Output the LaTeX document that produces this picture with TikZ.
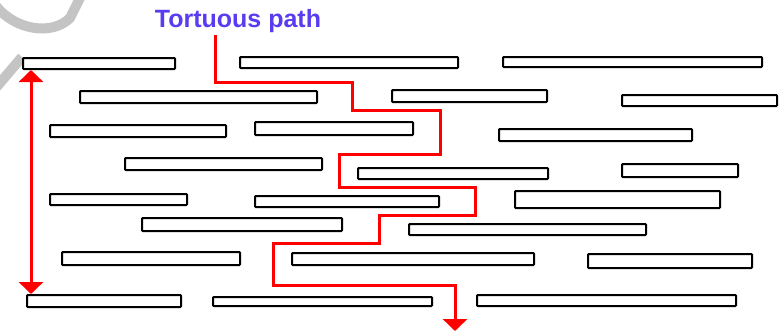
\documentclass[tikz,border=0pt]{standalone}
\usepackage{fontspec}
\setmainfont{Liberation Sans}
\usetikzlibrary{arrows.meta,fit}
\definecolor{titleblue}{RGB}{90,60,240}
\definecolor{pathred}{RGB}{255,0,0}
\definecolor{wmgray}{RGB}{196,196,196}
\tikzset{
  bar/.style={draw=black, fill=white, line width=2pt, rectangle, inner sep=0pt, outer sep=0pt, rounded corners=0.8pt},
  redpath/.style={draw=pathred, line width=3pt},
  redtip/.style={-{Triangle[width=24pt,length=12pt]}},
  title/.style={font=\fontsize{25}{28}\selectfont\bfseries, text=titleblue},
  wmark/.style={draw=wmgray, line width=10pt}
}
\begin{document}
\begin{tikzpicture}[x=1pt,y=-1pt]
\useasboundingbox (0,0) rectangle (781,333);
% watermark fragment
\draw[wmark] (-4,6) .. controls (15,30) and (52,36) .. (70,18) -- (81,-4);
\draw[wmark] (22,57) -- (-6,90);
% bars
\node[bar, fit={(23,58) (175,69)}] (b1) {};
\node[bar, fit={(240,57) (458,68)}] (b2) {};
\node[bar, fit={(503,57) (762,67)}] (b3) {};
\node[bar, fit={(80,91) (317,103)}] (b4) {};
\node[bar, fit={(392,90) (547,102)}] (b5) {};
\node[bar, fit={(622,95) (777,106)}] (b6) {};
\node[bar, fit={(50,125) (226,137)}] (b7) {};
\node[bar, fit={(255,122) (413,135)}] (b8) {};
\node[bar, fit={(499,129) (692,141)}] (b9) {};
\node[bar, fit={(125,158) (322,170)}] (b10) {};
\node[bar, fit={(358,168) (548,179)}] (b11) {};
\node[bar, fit={(622,164) (738,177)}] (b12) {};
\node[bar, fit={(50,194) (187,205)}] (b13) {};
\node[bar, fit={(255,196) (439,207)}] (b14) {};
\node[bar, fit={(515,191) (720,208)}] (b15) {};
\node[bar, fit={(142,218) (342,231)}] (b16) {};
\node[bar, fit={(409,224) (646,235)}] (b17) {};
\node[bar, fit={(62,252) (240,265)}] (b18) {};
\node[bar, fit={(292,253) (534,265)}] (b19) {};
\node[bar, fit={(588,254) (752,268)}] (b20) {};
\node[bar, fit={(27,295) (181,307)}] (b21) {};
\node[bar, fit={(213,297) (432,306)}] (b22) {};
\node[bar, fit={(477,295) (736,306)}] (b23) {};
% title
\node[title] (t) at (238,21) {Tortuous path};
% tortuous path
\coordinate (p0) at (215,35);
\coordinate (pend) at (455,331);
\draw[redpath, redtip] (p0) -- (215,82) -- (352,82) -- (352,110) -- (440,110) -- (440,154)
  -- (339,154) -- (339,187) -- (475,187) -- (475,215) -- (379,215) -- (379,243)
  -- (273,243) -- (273,285) -- (455,285) -- (pend);
% thickness arrow
\coordinate (ltop) at (31,70);
\coordinate (lbot) at (31,294);
\draw[redpath, {Triangle[width=24pt,length=12pt]}-{Triangle[width=24pt,length=12pt]}] (ltop) -- (lbot);
\end{tikzpicture}
\end{document}
